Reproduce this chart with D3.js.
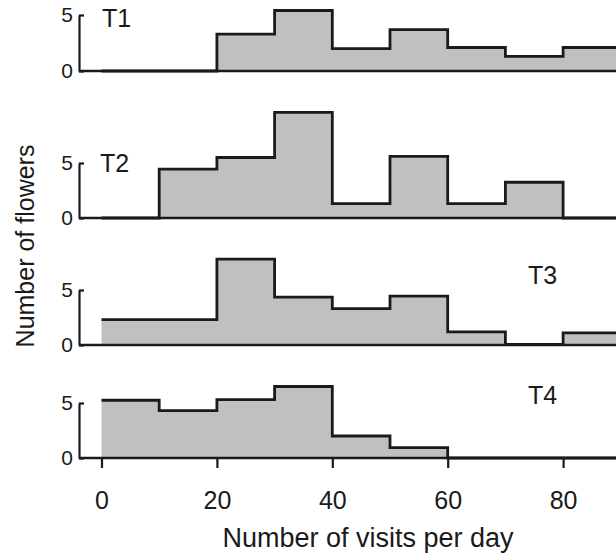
<!DOCTYPE html>
<html>
<head>
<meta charset="utf-8">
<script src="https://cdn.jsdelivr.net/npm/d3@7"></script>
<style>
  html, body { margin: 0; padding: 0; background: #fff; }
  svg { display: block; }
  text { font-family: "Liberation Sans", Arial, Helvetica, sans-serif; fill: #1a1a1a; }
</style>
</head>
<body>
<svg id="chart" width="616" height="556"></svg>
<script>
// Histogram bins: lower edge of each 10-visit class
const binStarts = [0, 10, 20, 30, 40, 50, 60, 70, 80];
const binWidth = 10;

// Number of flowers per class, one array per treatment
const t1Counts = [0, 0, 3.3, 5.4, 2.0, 3.7, 2.1, 1.3, 2.1];
const t2Counts = [0, 4.45, 5.5, 9.6, 1.3, 5.6, 1.3, 3.25, 0];
const t3Counts = [2.3, 2.3, 7.8, 4.35, 3.3, 4.45, 1.2, 0.05, 1.1];
const t4Counts = [5.25, 4.3, 5.3, 6.5, 2.0, 0.95, 0, 0, 0];

const panelNames = ["T1", "T2", "T3", "T4"];
const xTicks = [0, 20, 40, 60, 80];
const yTicks = [0, 5];

const W = 616, H = 556;
const svg = d3.select("#chart");

const axisX = 79;          // x of the vertical axis lines
const x = d3.scaleLinear().domain([0, 100]).range([101.5, 678.5]);

// baseline / "5" tick positions and label placement for each panel
const panels = [
  { name: panelNames[0], counts: t1Counts, base: 71,  top: 15,  lx: 102, ly: 27 },
  { name: panelNames[1], counts: t2Counts, base: 218, top: 163, lx: 100, ly: 172 },
  { name: panelNames[2], counts: t3Counts, base: 345, top: 290, lx: 528, ly: 284 },
  { name: panelNames[3], counts: t4Counts, base: 458, top: 403, lx: 528, ly: 404 }
];

svg.append("defs").append("clipPath").attr("id", "plotclip")
  .append("rect").attr("x", 0).attr("y", 0).attr("width", W).attr("height", H);

panels.forEach((p, i) => {
  const y = d3.scaleLinear().domain([0, 5]).range([p.base, p.top]);
  const g = svg.append("g");

  // step outline points: each bin start, then closing point at the last edge
  const pts = binStarts.map((b, k) => ({ x: b, v: p.counts[k] }));
  pts.push({ x: binStarts[binStarts.length - 1] + binWidth, v: 0 });

  const area = d3.area()
    .x(d => x(d.x)).y0(y(0)).y1(d => y(d.v))
    .curve(d3.curveStepAfter);
  const line = d3.line()
    .x(d => x(d.x)).y(d => y(d.v))
    .curve(d3.curveStepAfter);

  const plot = g.append("g").attr("clip-path", "url(#plotclip)");
  plot.append("path").datum(pts)
    .attr("d", area)
    .attr("fill", "#c0c0c0");
  plot.append("path").datum(pts)
    .attr("d", line)
    .attr("fill", "none")
    .attr("stroke", "#1a1a1a")
    .attr("stroke-width", 2.8)
    .attr("stroke-linejoin", "miter");

  // baseline
  g.append("line")
    .attr("x1", axisX).attr("x2", W)
    .attr("y1", y(0)).attr("y2", y(0))
    .attr("stroke", "#1a1a1a").attr("stroke-width", 2.6);

  // y axis with inward tick at 5
  const yAxis = d3.axisLeft(y).tickValues(yTicks).tickFormat(d3.format("d"))
    .tickSizeInner(-5).tickSizeOuter(0).tickPadding(6);
  const ya = g.append("g").attr("transform", `translate(${axisX},0)`).call(yAxis);
  ya.select(".domain").attr("stroke", "#1a1a1a").attr("stroke-width", 2.2);
  ya.selectAll(".tick line").attr("stroke", "#1a1a1a").attr("stroke-width", 2.2);
  ya.selectAll(".tick text")
    .attr("font-size", 21).attr("font-family", null).style("fill", "#1a1a1a");

  // panel label
  g.append("text")
    .attr("x", p.lx).attr("y", p.ly)
    .attr("font-size", 25)
    .text(p.name);

  // x axis with ticks on the bottom panel
  if (i === panels.length - 1) {
    const xAxis = d3.axisBottom(x).tickValues(xTicks).tickFormat(d3.format("d"))
      .tickSizeInner(10).tickSizeOuter(0).tickPadding(23);
    const xa = g.append("g").attr("transform", `translate(0,${y(0)})`).call(xAxis);
    xa.select(".domain").remove();
    xa.selectAll(".tick line").attr("stroke", "#1a1a1a").attr("stroke-width", 2.2);
    xa.selectAll(".tick text")
      .attr("font-size", 25).attr("font-family", null).style("fill", "#1a1a1a");
  }
});

// axis titles
svg.append("text")
  .attr("x", 368).attr("y", 547)
  .attr("text-anchor", "middle")
  .attr("font-size", 27)
  .text("Number of visits per day");

svg.append("text")
  .attr("transform", "translate(34,246) rotate(-90)")
  .attr("text-anchor", "middle")
  .attr("font-size", 25)
  .text("Number of flowers");
</script>
</body>
</html>
